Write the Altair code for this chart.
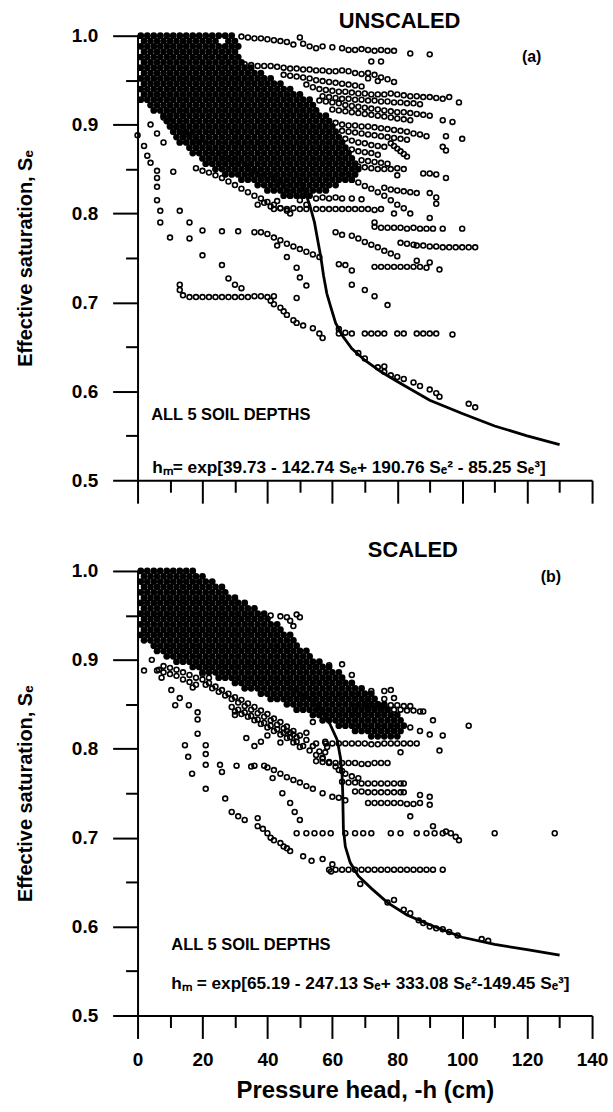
import altair as alt
import pandas as pd

# ---------------- data ----------------
# dense core of panel (a): (Se level, list of -h values)
top_core = [
    (1.000, [1,3,5,7,9,11,13,15,17,19,21,23,25,27,29]),
    (0.994, [2,4,6,8,10,12,14,16,18,20,22,24,28,30]),
    (0.988, [1,3,5,7,9,11,13,15,17,19,21,23,25,27,29,31]),
    (0.982, [2,4,6,8,10,12,14,16,18,20,22,24,26,28,30]),
    (0.976, [1,3,5,7,9,11,13,15,17,19,21,23,25,27,29,31]),
    (0.970, [2,4,6,8,10,12,14,16,18,20,22,24,26,28,30,32]),
    (0.964, [1,3,5,7,9,11,13,15,17,19,21,23,25,27,29,31,33,35]),
    (0.958, [2,4,6,8,10,12,14,16,18,20,22,24,26,28,30,32,34,36,38]),
    (0.952, [1,3,5,7,9,11,13,15,17,19,21,23,25,27,29,31,33,35,37,39,41]),
    (0.946, [2,4,6,8,10,12,14,16,18,20,22,24,26,28,30,32,34,36,38,40,42,44]),
    (0.940, [1,3,5,7,9,11,13,15,17,19,21,23,25,27,29,31,33,35,37,39,41,43,45,47]),
    (0.934, [2,4,6,8,10,12,14,16,18,20,22,24,26,28,30,32,34,36,38,40,42,44,46,48,50]),
    (0.928, [1,3,5,7,9,11,13,15,17,19,21,23,25,27,29,31,33,35,37,39,41,43,45,47,49,51,53]),
    (0.922, [4,6,8,10,12,14,16,18,20,22,24,26,28,30,32,34,36,38,40,42,44,46,48,50,52,54]),
    (0.916, [5,7,9,11,13,15,17,19,21,23,25,27,29,31,33,35,37,39,41,43,45,47,49,51,53,55]),
    (0.910, [8,10,12,14,16,18,20,22,24,26,28,30,32,34,36,38,40,42,44,46,48,50,52,54,56,58]),
    (0.904, [9,11,13,15,17,19,21,23,25,27,29,31,33,35,37,39,41,43,45,47,49,51,53,55,57,59]),
    (0.898, [10,12,14,16,18,20,22,24,26,28,30,32,34,36,38,40,42,44,46,48,50,52,54,56,58,60]),
    (0.892, [11,13,15,17,19,21,23,25,27,29,31,33,35,37,39,41,43,45,47,49,51,53,55,57,59,61]),
    (0.886, [12,14,16,18,20,22,24,26,28,30,32,34,36,38,40,42,44,46,48,50,52,54,56,58,60,62]),
    (0.880, [13,15,17,19,21,23,25,27,29,31,33,35,37,39,41,43,45,47,49,51,53,55,57,59,61,63]),
    (0.874, [16,18,20,22,24,26,28,30,32,34,36,38,40,42,44,46,48,50,52,54,56,58,60,62,64]),
    (0.868, [17,19,21,23,25,27,29,31,33,35,37,39,41,43,45,47,49,51,53,55,57,59,61,63,65]),
    (0.862, [20,22,24,26,28,30,32,34,36,38,40,42,44,46,48,50,52,54,56,58,60,62,64,66]),
    (0.856, [21,23,25,27,29,31,33,35,37,39,41,43,45,47,49,51,53,55,57,59,61,63,65,67]),
    (0.850, [24,26,28,30,32,34,36,38,40,42,44,46,48,50,52,54,56,58,60,62,64,66,68]),
    (0.844, [27,29,31,33,35,37,39,41,43,45,47,49,51,53,55,57,59,61,63,65,67]),
    (0.838, [32,34,36,38,40,42,44,46,48,50,52,54,56,58,60,62,64,66]),
    (0.832, [37,39,41,43,45,47,49,51,53,55,57,59,61]),
    (0.826, [40,42,44,46,48,50,52,54,56,58]),
    (0.820, [45,47,49,51,53]),
]

# scattered / streak points of panel (a): (-h, Se)
top_rowA = [(30,0.985),(32,0.999),(34,0.998),(36,0.997),(38,0.997),(40,0.996),(42,0.995),(44,0.994),(46,0.993),(48,0.99),(50,0.998),(51,0.991),(53,0.988),(55,0.986),(57,0.988),(60,0.987),(63,0.986),(65,0.984),(67,0.984),(69,0.985),(71,0.984),(73,0.983),(75,0.984),(77,0.983),(79,0.983),(84,0.98),(90,0.979),(72,0.971),(75,0.971)]
top_rowB = [(33,0.968),(35,0.967),(37,0.966),(39,0.966),(41,0.966),(43,0.965),(45,0.964),(47,0.963),(49,0.963),(51,0.962),(53,0.962),(55,0.961),(57,0.961),(59,0.96),(61,0.96),(63,0.961),(65,0.96),(67,0.958),(69,0.957),(71,0.958),(73,0.956),(75,0.953),(77,0.951),(79,0.948),(71,0.952),(74,0.949)]
top_rowB2 = [(45,0.956),(47,0.955),(49,0.954),(51,0.953),(53,0.952),(55,0.95),(57,0.949),(59,0.948),(61,0.947),(63,0.946),(65,0.945),(67,0.944),(69,0.943)]
top_rowC = [(52,0.945),(54,0.942),(56,0.94),(58,0.939),(60,0.938),(62,0.937),(64,0.937),(66,0.936),(68,0.935),(70,0.935),(72,0.934),(74,0.934),(76,0.934),(78,0.935),(80,0.934),(82,0.933),(84,0.932),(86,0.932),(88,0.931),(90,0.931),(92,0.93),(94,0.929),(96,0.931),(99,0.925)]
top_rowC2 = [(57,0.932),(59,0.931),(61,0.93),(63,0.929),(65,0.929),(67,0.928),(69,0.928),(71,0.927),(73,0.927),(75,0.926),(77,0.926),(79,0.925),(81,0.925),(83,0.924),(85,0.924),(87,0.923)]
top_rowD = [(56,0.927),(58,0.926),(60,0.925),(62,0.924),(64,0.922),(66,0.921),(68,0.92),(70,0.919),(72,0.918),(74,0.917),(76,0.916),(78,0.915),(80,0.914),(82,0.914),(84,0.913),(86,0.912),(88,0.911),(90,0.91),(94,0.905),(97,0.903)]
top_rowD2 = [(60,0.917),(62,0.916),(64,0.915),(66,0.914),(68,0.913),(70,0.912),(72,0.911),(74,0.91),(76,0.909),(78,0.908),(80,0.907),(82,0.906),(84,0.905)]
top_rowE = [(61,0.902),(63,0.9),(65,0.899),(67,0.899),(69,0.898),(71,0.898),(73,0.897),(75,0.896),(77,0.895),(79,0.894),(81,0.893),(83,0.892),(85,0.89),(87,0.889),(89,0.887),(95,0.887),(100,0.884),(94,0.875),(95,0.871),
            (66,0.872),(68,0.87),(70,0.869),(72,0.868),(74,0.866),(78,0.879),(79,0.876),(80,0.873),(81,0.87),(82,0.867),(83,0.864)]
top_rowE2 = [(63,0.893),(65,0.892),(67,0.891),(69,0.89),(71,0.889),(73,0.888),(75,0.887),(77,0.886),(79,0.885),(81,0.884),(83,0.883),(64,0.884),(66,0.882),(68,0.88),(70,0.879),(72,0.877),(74,0.876),(76,0.875)]
top_rowF = [(68,0.853),(70,0.852),(72,0.851),(74,0.85),(76,0.85),(78,0.85),(80,0.851),(82,0.85),(80,0.843),(88,0.845),(90,0.845),(92,0.844),(95,0.84),(69,0.86),(71,0.859),(73,0.858),(75,0.857),(77,0.856)]
top_rowG = [(64,0.842),(66,0.838),(68,0.835),(70,0.831),(72,0.828),(74,0.824),(76,0.82),(78,0.815),(80,0.81),(82,0.806),(84,0.8),(76,0.829),(78,0.827),(80,0.826),(82,0.825),(84,0.824),(86,0.823),(90,0.823),(92,0.818),(92,0.811),(90,0.795),(79,0.8),(73,0.79)]
top_r082 = [(55,0.817),(57,0.818),(59,0.817),(61,0.818),(63,0.817),(66,0.817),(69,0.816)]
top_r0805 = [(42,0.805),(44,0.806),(46,0.805),(48,0.806),(50,0.805),(52,0.805),(55,0.805),(57,0.805),(59,0.805),(61,0.805),(63,0.805),(65,0.805),(67,0.805),(69,0.805),(71,0.805),(73,0.804),(75,0.805),(37,0.81),(39,0.812),(41,0.808),(43,0.814),(45,0.826),(47,0.82),(50,0.815),(52,0.81)]
top_rowH = [(73,0.785),(75,0.784),(77,0.784),(79,0.784),(81,0.784),(83,0.783),(85,0.784),(87,0.783),(89,0.783),(91,0.783),(94,0.783),(100,0.783)]
top_rowI = [(66,0.775),(68,0.772),(70,0.768),(72,0.765),(74,0.762),(76,0.758),(78,0.755),(80,0.752),(81,0.767),(83,0.766),(85,0.765),(86,0.764),(88,0.764),(90,0.763),(92,0.763),(94,0.762),(96,0.762),(98,0.762),(100,0.762),(102,0.762),(104,0.762),(61,0.779),(63,0.776)]
top_rowK = [(62,0.743),(64,0.742),(66,0.736),(73,0.74),(75,0.74),(77,0.74),(79,0.74),(81,0.74),(83,0.74),(85,0.74),(87,0.74),(89,0.739),(93,0.737),(86,0.747),(90,0.745),(66,0.72),(70,0.714),(73,0.707),(77,0.697)]
top_r0665 = [(62,0.67),(62,0.665),(64,0.666),(66,0.665),(70,0.665),(72,0.665),(74,0.665),(76,0.665),(80,0.665),(82,0.665),(86,0.665),(88,0.665),(90,0.665),(92,0.665),(97,0.664)]
top_tail = [(68,0.643),(70,0.637),(74,0.627),(76,0.628),(76,0.622),(78,0.618),(80,0.616),(82,0.614),(85,0.61),(87,0.606),(90,0.602),(92,0.598),(93,0.594),(102,0.586),(104,0.582)]
top_r0705 = [(13,0.72),(13,0.714),(14,0.708),(16,0.706),(18,0.706),(20,0.706),(22,0.706),(24,0.706),(26,0.706),(28,0.706),(30,0.706),(32,0.706),(34,0.706),(36,0.707),(38,0.707),(40,0.706),(42,0.707),(41,0.702),(42,0.698),(44,0.694),(45,0.69),(46,0.686),(48,0.68),(49,0.677),(51,0.674),(54,0.671),(56,0.665),(57,0.66)]
top_left = [(0,0.888),(2,0.876),(3,0.865),(4,0.857),(6,0.848),(6,0.84),(6,0.83),(6,0.815),(7,0.803),(7,0.79),(10,0.773),(4,0.9),(6,0.89),(8,0.88),(11,0.847),(13,0.803),(16,0.79),(16,0.772),(20,0.753),(26,0.742),(28,0.727),(30,0.72),(32,0.716)]
top_r078 = [(20,0.781),(26,0.78),(31,0.78),(36,0.779),(38,0.779),(40,0.777),(42,0.773),(44,0.77),(46,0.766),(48,0.763),(50,0.76),(52,0.757),(54,0.754),(56,0.751),(43,0.764),(46,0.751),(49,0.739),(50,0.728),(52,0.719),(49,0.705)]
top_low1 = [(8,0.908),(10,0.903),(12,0.898),(14,0.893),(16,0.888),(18,0.884),(20,0.879),(22,0.874),(24,0.87),(26,0.866),(28,0.862),(30,0.858),(32,0.855),(34,0.851),(36,0.848),(38,0.845),(40,0.842),(42,0.839),(44,0.836),(46,0.834),(48,0.832),(50,0.83)]
top_low2 = [(18,0.851),(20,0.848),(22,0.846),(24,0.843),(26,0.84),(28,0.836),(30,0.832),(32,0.828),(34,0.824),(36,0.82),(38,0.817),(40,0.813),(42,0.81),(44,0.806),(46,0.803),(47,0.8)]

top_curve = [(48,0.85),(51,0.83),(53,0.81),(54.5,0.79),(55.5,0.77),(56.5,0.75),(57.3,0.73),(58.3,0.71),(59.5,0.695),(61,0.677),(63,0.663),(66,0.648),(70,0.635),(75,0.622),(80,0.611),(90,0.59),(100,0.575),(110,0.561),(120,0.55),(130,0.54)]

# dense core of panel (b)
bot_core = [
    (1.000, [1,3,5,7,9,11,13,15,17]),
    (0.994, [2,4,6,8,10,12,14,16,18,20]),
    (0.988, [1,3,5,7,9,11,13,15,17,19,21,23]),
    (0.982, [2,4,6,8,10,12,14,16,18,20,22,24,26]),
    (0.976, [1,3,5,7,9,11,13,15,17,19,21,23,25,27]),
    (0.970, [2,4,6,8,10,12,14,16,18,20,22,24,26,28,30]),
    (0.964, [1,3,5,7,9,11,13,15,17,19,21,23,25,27,29,31,33]),
    (0.958, [2,4,6,8,10,12,14,16,18,20,22,24,26,28,30,32,34,36]),
    (0.952, [1,3,5,7,9,11,13,15,17,19,21,23,25,27,29,31,33,35,37,39]),
    (0.946, [2,4,6,8,10,12,14,16,18,20,22,24,26,28,30,32,34,36,38,40]),
    (0.940, [1,3,5,7,9,11,13,15,17,19,21,23,25,27,29,31,33,35,37,39,41,43]),
    (0.934, [2,4,6,8,10,12,14,16,18,20,22,24,26,28,30,32,34,36,38,40,42,44]),
    (0.928, [1,3,5,7,9,11,13,15,17,19,21,23,25,27,29,31,33,35,37,39,41,43,45,47]),
    (0.922, [2,4,6,8,10,12,14,16,18,20,22,24,26,28,30,32,34,36,38,40,42,44,46,48]),
    (0.916, [5,7,9,11,13,15,17,19,21,23,25,27,29,31,33,35,37,39,41,43,45,47,49]),
    (0.910, [6,8,10,12,14,16,18,20,22,24,26,28,30,32,34,36,38,40,42,44,46,48,50,52]),
    (0.904, [9,11,13,15,17,19,21,23,25,27,29,31,33,35,37,39,41,43,45,47,49,51,53]),
    (0.898, [12,14,16,18,20,22,24,26,28,30,32,34,36,38,40,42,44,46,48,50,52,54,56]),
    (0.892, [17,19,21,23,25,27,29,31,33,35,37,39,41,43,45,47,49,51,53,55,57,59]),
    (0.886, [20,22,24,26,28,30,32,34,36,38,40,42,44,46,48,50,52,54,56,58,60,62]),
    (0.880, [25,27,29,31,33,35,37,39,41,43,45,47,49,51,53,55,57,59,61,63]),
    (0.874, [30,32,34,36,38,40,42,44,46,48,50,52,54,56,58,60,62,64,66]),
    (0.868, [33,35,37,39,41,43,45,47,49,51,53,55,57,59,61,63,65,67,69]),
    (0.862, [38,40,42,44,46,48,50,52,54,56,58,60,62,64,66,68,70,72]),
    (0.856, [41,43,45,47,49,51,53,55,57,59,61,63,65,67,69,71,73]),
    (0.850, [46,48,50,52,54,56,58,60,62,64,66,68,70,72,74,76]),
    (0.844, [49,51,53,55,57,59,61,63,65,67,69,71,73,75,77]),
    (0.838, [54,56,58,60,62,64,66,68,70,72,74,76,78,80]),
    (0.832, [57,59,61,63,65,67,69,71,73,75,77,79,81]),
    (0.826, [62,64,66,68,70,72,74,76,78,80,82]),
    (0.820, [67,69,71,73,75,77,79,81]),
    (0.814, [72,74,76,78,80]),
]

bot_low0 = [(6,0.888),(8,0.886),(10,0.884),(12,0.882),(14,0.878),(16,0.875),(18,0.872),(8,0.893),(10,0.891),(12,0.889),(14,0.886),(16,0.883),(18,0.88),(20,0.884),(22,0.88)]
bot_low1 = [(20,0.878),(22,0.874),(24,0.87),(26,0.866),(28,0.862),(30,0.858),(32,0.855),(34,0.851),(36,0.847),(38,0.843),(40,0.839),(42,0.834),(44,0.83),(46,0.825),(48,0.82),(50,0.815),(52,0.81),(54,0.803),(56,0.797),(57,0.79)]
bot_low1b = [(21,0.872),(23,0.868),(25,0.864),(27,0.86),(29,0.856),(31,0.852),(33,0.848),(35,0.844),(37,0.84),(39,0.836),(41,0.832),(43,0.827),(45,0.823),(47,0.818),(49,0.813)]
bot_low2 = [(29,0.847),(31,0.844),(33,0.841),(35,0.837),(37,0.833),(39,0.829),(41,0.826),(43,0.822),(45,0.818),(47,0.813),(49,0.808),(51,0.803),(53,0.798),(55,0.793),(57,0.789),(59,0.784),(61,0.78),(63,0.775)]
bot_low2b = [(30,0.842),(32,0.839),(34,0.836),(36,0.832),(38,0.828),(40,0.824),(42,0.82),(44,0.816),(46,0.812),(48,0.807),(50,0.802)]
bot_d078 = [(36,0.781),(39,0.781),(40,0.779),(42,0.776),(44,0.772),(46,0.768),(48,0.765),(50,0.762),(52,0.758),(54,0.755),(57,0.75)]
bot_r0845 = [(67,0.846),(69,0.846),(71,0.845),(73,0.845),(75,0.845),(77,0.844),(79,0.844),(81,0.844),(83,0.843),(85,0.843),(87,0.842),(88,0.842),(76,0.865),(79,0.857),(72,0.865),(66,0.883),(59,0.894),(63,0.895),(78,0.866),(76,0.856),(91,0.832),(94,0.815),(90,0.816),(93,0.798),(102,0.826),(84,0.824),(87,0.82),
             (70,0.851),(72,0.85),(74,0.85),(76,0.849),(78,0.849),(80,0.849),(82,0.848),(84,0.848)]
bot_r0805 = [(58,0.806),(60,0.806),(62,0.806),(64,0.806),(66,0.806),(68,0.806),(70,0.806),(72,0.805),(74,0.805),(76,0.806),(78,0.806),(80,0.806),(82,0.806),(84,0.806),(86,0.806),(81,0.796)]
bot_r078 = [(55,0.786),(57,0.785),(59,0.785),(61,0.784),(63,0.784),(65,0.784),(67,0.784),(69,0.783),(71,0.783),(73,0.784),(75,0.784),(77,0.784),(62,0.776),(64,0.772),(66,0.769),(68,0.767)]
bot_r076 = [(63,0.763),(65,0.762),(67,0.762),(69,0.761),(71,0.761),(73,0.761),(75,0.761),(77,0.761),(79,0.761),(81,0.761),(82,0.761)]
bot_r075 = [(67,0.752),(69,0.752),(71,0.751),(73,0.751),(75,0.751),(77,0.751),(79,0.751),(81,0.751),(82,0.751),(87,0.748),(90,0.746),(60,0.746),(62,0.745),(64,0.742)]
bot_r0737 = [(71,0.739),(73,0.739),(75,0.739),(77,0.739),(79,0.739),(81,0.739),(83,0.738),(85,0.738),(87,0.739),(90,0.737),(84,0.724)]
bot_r0705 = [(49,0.705),(52,0.705),(54.5,0.705),(57,0.705),(59.5,0.705),(64,0.705),(67,0.705),(69.5,0.705),(72,0.705),(78,0.705),(81,0.705),(86,0.705),(89,0.705),(91.5,0.705),(94,0.705),(95,0.707),(96.5,0.705),(98,0.701),(99,0.697),(91,0.713),(110,0.705),(128.5,0.705)]
bot_r0665 = [(59,0.664),(61,0.664),(63,0.664),(65,0.664),(67,0.664),(69,0.664),(71,0.664),(73,0.664),(75,0.664),(77,0.664),(79,0.664),(81,0.664),(83,0.664),(85,0.664),(87,0.664),(89,0.664),(91,0.664),(94,0.664)]
bot_tail = [(68.6,0.648),(77,0.627),(79,0.63),(82,0.619),(84,0.615),(86.6,0.607),(88,0.604),(90,0.6),(92,0.598),(94,0.597),(96,0.594),(98.6,0.59),(106,0.586),(108,0.584)]
bot_left = [(2,0.888),(4.4,0.9),(6.6,0.889),(7.4,0.88),(10.4,0.866),(11.6,0.849),(13,0.857),(15.8,0.849),(17,0.869),(14.6,0.804),(15.6,0.791),(16.8,0.772),(18.5,0.841),(18.5,0.833),(18.5,0.817),(21,0.804),(21,0.794),(21,0.782),(21,0.755),(25.4,0.782),(26,0.774),(30.5,0.781),(35,0.78),(27,0.744),(29,0.729),(31,0.724),(33,0.72),(37,0.722),(37,0.713),(38.6,0.71),(40,0.705),(41,0.7),(42,0.697),(44,0.694),(45,0.69),(46,0.688),(47,0.685),(51,0.679),(53.6,0.674),(57,0.676),(60,0.67),(59.6,0.662)]
bot_mid = [(41.6,0.767),(44.6,0.75),(47,0.739),(48.4,0.729),(50,0.72),(54,0.83),(52,0.818),(55,0.806),(57.8,0.808),(58.4,0.802),(57.8,0.796),(30,0.838),(33.5,0.812),(36,0.803),(38,0.808),(40,0.815),(44,0.807),(46,0.82),(48,0.816),(41,0.95),(44,0.949),(46,0.948),(47,0.944),(48,0.938),(50,0.948),(49,0.951)]

bot_curve = [(47,0.87),(55,0.85),(59,0.83),(61.5,0.81),(62.5,0.79),(63,0.77),(63.2,0.75),(63.3,0.73),(63.4,0.71),(64,0.69),(65.5,0.672),(68,0.657),(72,0.643),(77,0.627),(83,0.613),(90,0.602),(100,0.588),(110,0.58),(120,0.574),(130,0.568)]

x_ticks = [0,10,20,30,40,50,60,70,80,90,100,110,120,130,140]
y_ticks = [0.5,0.55,0.6,0.65,0.7,0.75,0.8,0.85,0.9,0.95,1.0]

top_texts = {"title": "UNSCALED", "title_x": 80.7, "title_dy": -15,
             "tag": "(a)", "tag_x": 121.4, "tag_y": 0.976,
             "note": "ALL 5 SOIL DEPTHS", "note_x": 4.2, "note_y": 0.573,
             "eq": "hₘ= exp[39.73 - 142.74 Sₑ+ 190.76 Sₑ² - 85.25 Sₑ³]", "eq_x": 4.5, "eq_y": 0.514, "eq_size": 17.3}
bot_texts = {"title": "SCALED", "title_x": 84.8, "title_dy": -21,
             "tag": "(b)", "tag_x": 127.3, "tag_y": 0.993,
             "note": "ALL 5 SOIL DEPTHS", "note_x": 10.4, "note_y": 0.579,
             "eq": "hₘ = exp[65.19 - 247.13 Sₑ+ 333.08 Sₑ²-149.45 Sₑ³]", "eq_x": 10.4, "eq_y": 0.535, "eq_size": 17.3}

# ---------------- build ----------------
FONT = "Liberation Sans"


def rows_df(rows):
    return pd.DataFrame([{"x": x, "y": y} for y, xs in rows for x in xs])


def pts_df(groups):
    return pd.DataFrame([{"x": x, "y": y} for g in groups for (x, y) in g])


def curve_df(pts):
    return pd.DataFrame([{"x": x, "y": y, "o": i} for i, (x, y) in enumerate(pts)])


XS = alt.Scale(domain=[0, 140], nice=False, zero=False)
YS = alt.Scale(domain=[0.5, 1.0], nice=False, zero=False)

axis_common = dict(grid=False, domainColor="black", domainWidth=2, tickColor="black", tickWidth=2,
                   labelFont=FONT, labelFontSize=19, labelFontWeight="bold", labelColor="black",
                   titleFont=FONT, titleFontWeight="bold", titleColor="black")


def panel(core, groups, curve, tx, bottom):
    if bottom:
        xaxis = alt.Axis(values=x_ticks,
                         tickSize={"condition": {"test": "datum.value % 20 === 0", "value": 23}, "value": 12},
                         labelExpr="datum.value % 20 === 0 ? datum.label : ''",
                         labelPadding=12, titlePadding=9, titleFontSize=24, labelFlush=False, **axis_common)
        xenc = alt.X("x:Q", scale=XS, title="Pressure head, -h (cm)", axis=xaxis)
    else:
        xaxis = alt.Axis(values=x_ticks,
                         tickSize={"condition": {"test": "datum.value % 20 === 0", "value": 23}, "value": 12},
                         labels=False, **axis_common)
        xenc = alt.X("x:Q", scale=XS, title=None, axis=xaxis)
    yaxis = alt.Axis(values=y_ticks,
                     tickSize={"condition": {"test": "round(datum.value*100) % 10 === 0", "value": 25}, "value": 12},
                     labelExpr="round(datum.value*100) % 10 === 0 ? format(datum.value, '.1f') : ''",
                     labelPadding=15, titlePadding=36, titleFontSize=20, labelFlush=False, **axis_common)
    yenc = alt.Y("y:Q", scale=YS, title="Effective saturation, Sₑ", axis=yaxis)

    core_l = alt.Chart(rows_df(core)).mark_point(shape="circle", filled=True, size=46, color="black",
                                                  opacity=1).encode(x=xenc, y=yenc)
    pts_l = alt.Chart(pts_df(groups)).mark_point(shape="circle", filled=False, size=24, strokeWidth=1.6,
                                                  color="black", opacity=1).encode(x=xenc, y=yenc)
    curve_l = alt.Chart(curve_df(curve)).mark_line(color="black", strokeWidth=2.8).encode(
        x=xenc, y=yenc, order="o:Q")

    title_l = alt.Chart(pd.DataFrame([{"x": tx["title_x"], "t": tx["title"]}])).mark_text(
        font=FONT, fontSize=22, fontWeight="bold", color="black", align="center", baseline="middle"
    ).encode(x=xenc, y=alt.value(tx["title_dy"]), text="t:N")
    tag_l = alt.Chart(pd.DataFrame([{"x": tx["tag_x"], "y": tx["tag_y"], "t": tx["tag"]}])).mark_text(
        font=FONT, fontSize=16, fontWeight="bold", color="black", align="center", baseline="middle"
    ).encode(x=xenc, y=yenc, text="t:N")
    note_l = alt.Chart(pd.DataFrame([{"x": tx["note_x"], "y": tx["note_y"], "t": tx["note"]}])).mark_text(
        font=FONT, fontSize=16.5, fontWeight="bold", color="black", align="left", baseline="middle"
    ).encode(x=xenc, y=yenc, text="t:N")
    eq_l = alt.Chart(pd.DataFrame([{"x": tx["eq_x"], "y": tx["eq_y"], "t": tx["eq"]}])).mark_text(
        font=FONT, fontSize=tx["eq_size"], fontWeight="bold", color="black", align="left", baseline="middle"
    ).encode(x=xenc, y=yenc, text="t:N")

    return alt.layer(core_l, pts_l, curve_l, title_l, tag_l, note_l, eq_l).properties(width=456, height=446)


top_groups = [top_rowA, top_rowB, top_rowB2, top_rowC, top_rowC2, top_rowD, top_rowD2, top_rowE, top_rowE2,
              top_rowF, top_rowG, top_r082, top_r0805, top_rowH, top_rowI, top_rowK, top_r0665, top_tail,
              top_r0705, top_left, top_r078, top_low1, top_low2]
bot_groups = [bot_low0, bot_low1, bot_low1b, bot_low2, bot_low2b, bot_d078, bot_r0845, bot_r0805, bot_r078,
              bot_r076, bot_r075, bot_r0737, bot_r0705, bot_r0665, bot_tail, bot_left, bot_mid]

top = panel(top_core, top_groups, top_curve, top_texts, bottom=False)
bot = panel(bot_core, bot_groups, bot_curve, bot_texts, bottom=True)

chart = alt.vconcat(top, bot, spacing=35).properties(
    padding={"left": 15, "top": 8, "right": 5, "bottom": 10},
    background="white",
).configure_view(strokeWidth=0)

chart.save("out.html", embed_options={"renderer": "svg", "actions": False})
